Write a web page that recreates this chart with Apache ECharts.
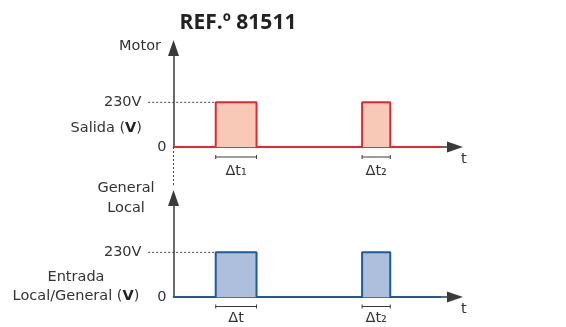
<!DOCTYPE html>
<html><head><meta charset="utf-8">
<script src="https://cdn.jsdelivr.net/npm/echarts@6/dist/echarts.min.js"></script>
<style>html,body{margin:0;padding:0;background:#fff}#c{width:566px;height:327px}</style>
</head><body><div id="c"></div>
<script>
// ---- data ----
const motorTimes = [0, 15, 15, 29.5, 29.5, 67, 67, 77, 77, 95];
const motorVolts = [0, 0, 230, 230, 0, 0, 230, 230, 0, 0];
const inputTimes = [0, 15, 15, 29.5, 29.5, 67, 67, 77, 77, 95];
const inputVolts = [0, 0, 230, 230, 0, 0, 230, 230, 0, 0];
const levelTicks = [0, 230];
const levelLabels = ['0', '230V'];
const motorIntStart = [15, 67];
const motorIntEnd = [29.5, 77];
const motorIntLabels = ['Δt₁', 'Δt₂'];
const inputIntStart = [15, 67];
const inputIntEnd = [29.5, 77];
const inputIntLabels = ['Δt', 'Δt₂'];
const timeMax = 100;
const voltMax = 510;

const FONT = '"DejaVu Sans", "Open Sans", sans-serif';
const TXT = '#333333';
const AX = '#3a3a3a';
const FS = 14.5;

function pairs(xs, ys) { return xs.map((x, i) => [x, ys[i]]); }

function bracketSeries(starts, ends, labels, idx, gap, textGap) {
  return {
    type: 'custom', xAxisIndex: idx, yAxisIndex: idx, silent: true, z: 5,
    data: starts.map((s, i) => [s, ends[i]]),
    renderItem: function (params, api) {
      const a = api.coord([api.value(0), 0]);
      const b = api.coord([api.value(1), 0]);
      const y = a[1] + gap;
      const st = { stroke: AX, lineWidth: 1 };
      return { type: 'group', children: [
        { type: 'line', shape: { x1: a[0], y1: y, x2: b[0], y2: y }, style: st },
        { type: 'line', shape: { x1: a[0], y1: y - 2, x2: a[0], y2: y + 2 }, style: st },
        { type: 'line', shape: { x1: b[0], y1: y - 2, x2: b[0], y2: y + 2 }, style: st },
        { type: 'text', style: { text: labels[params.dataIndex], x: (a[0] + b[0]) / 2, y: y + textGap,
          align: 'center', verticalAlign: 'middle', fontSize: FS, fontFamily: FONT, fill: TXT } }
      ]};
    }
  };
}

// dotted guide segments [x0, y0, x1, y1] in data units
function guideSeries(idx, segs) {
  return {
    type: 'custom', xAxisIndex: idx, yAxisIndex: idx, silent: true, z: 1,
    data: segs,
    renderItem: function (params, api) {
      const p0 = api.coord([api.value(0), api.value(1)]);
      const p1 = api.coord([api.value(2), api.value(3)]);
      return { type: 'line', shape: { x1: p0[0], y1: p0[1], x2: p1[0], y2: p1[1] },
        style: { stroke: '#444', lineWidth: 1, lineDash: [2, 2] } };
    }
  };
}

function yAxisDef(idx) {
  return {
    gridIndex: idx, type: 'value', min: 0, max: voltMax,
    axisLine: { show: true, symbol: ['none', 'triangle'], symbolSize: [11, 16],
      lineStyle: { color: AX, width: 1.5 } },
    axisTick: { show: false }, splitLine: { show: false },
    axisLabel: {
      customValues: levelTicks, margin: 7, fontSize: FS, fontFamily: FONT, color: TXT,
      formatter: function (v) {
        const i = levelTicks.indexOf(v);
        return v === 0 ? '{n|' + levelLabels[i] + '}' : '{f|' + levelLabels[i] + '}';
      },
      rich: { n: { fontSize: FS, fontFamily: FONT, color: TXT },
              f: { fontSize: FS, fontFamily: FONT, color: TXT, padding: [0, 25, 0, 0] } }
    }
  };
}
function xAxisDef(idx) {
  return {
    gridIndex: idx, type: 'value', min: 0, max: timeMax,
    axisLine: { show: true, symbol: ['none', 'triangle'], symbolSize: [11, 16],
      lineStyle: { color: AX, width: 1.5 } },
    axisTick: { show: false }, splitLine: { show: false }, axisLabel: { show: false },
    name: 't', nameLocation: 'end', nameGap: 6,
    nameTextStyle: { fontSize: FS, fontFamily: FONT, color: TXT, align: 'left', verticalAlign: 'top', padding: [5, 0, 0, 0] }
  };
}

const lblStyle = { fontSize: FS, fontWeight: 'normal', fontFamily: FONT, color: TXT,
  rich: { v: { fontSize: FS, fontWeight: 'bold', fontFamily: FONT, color: '#222' },
          t: { fontSize: FS, fontFamily: FONT, color: TXT } } };

const option = {
  animation: false,
  title: [
    { text: 'REF.º 81511', left: 238, top: 23, textAlign: 'center', textVerticalAlign: 'middle', padding: 0,
      textStyle: { fontSize: 21, fontWeight: 'bold', fontFamily: '"Open Sans", sans-serif', color: '#222' } },
    { text: 'Motor', left: 161, top: 46, textAlign: 'right', textVerticalAlign: 'middle', padding: 0,
      textStyle: lblStyle },
    { text: '{t|Salida (}{v|V}{t|)}', left: 142, top: 128, textAlign: 'right', textVerticalAlign: 'middle', padding: 0,
      textStyle: lblStyle },
    { text: 'General\nLocal', left: 126, top: 198, textAlign: 'center', textVerticalAlign: 'middle', padding: 0,
      textStyle: Object.assign({}, lblStyle, { lineHeight: 20 }) },
    { text: '{t|Entrada}\n{t|Local/General (}{v|V}{t|)}', left: 76, top: 287, textAlign: 'center', textVerticalAlign: 'middle', padding: 0,
      textStyle: Object.assign({}, lblStyle, { lineHeight: 19,
        rich: { v: { fontSize: FS, fontWeight: 'bold', fontFamily: FONT, color: '#222', lineHeight: 19 },
                t: { fontSize: FS, fontFamily: FONT, color: TXT, lineHeight: 19 } } }) }
  ],
  grid: [
    { left: 173.5, right: 111, top: 48, height: 99 },
    { left: 173.5, right: 111, top: 198, height: 99 }
  ],
  xAxis: [xAxisDef(0), xAxisDef(1)],
  yAxis: [yAxisDef(0), yAxisDef(1)],
  series: [
    {
      type: 'line', xAxisIndex: 0, yAxisIndex: 0, data: pairs(motorTimes, motorVolts),
      showSymbol: false, z: 3,
      lineStyle: { color: '#e4282d', width: 2 },
      areaStyle: { color: '#f8c9b7', opacity: 1 }
    },
    {
      type: 'line', xAxisIndex: 1, yAxisIndex: 1, data: pairs(inputTimes, inputVolts),
      showSymbol: false, z: 3,
      lineStyle: { color: '#1e5b9a', width: 2 },
      areaStyle: { color: '#aebfde', opacity: 1 }
    },
    guideSeries(0, [[-9, levelTicks[1], motorTimes[2], levelTicks[1]], [0, levelTicks[0], 0, -206]]),
    guideSeries(1, [[-9, levelTicks[1], inputTimes[2], levelTicks[1]]]),
    bracketSeries(motorIntStart, motorIntEnd, motorIntLabels, 0, 10, 14),
    bracketSeries(inputIntStart, inputIntEnd, inputIntLabels, 1, 9.5, 12)
  ]
};
const chart = echarts.init(document.getElementById('c'), null, { renderer: 'canvas' });
chart.setOption(option);
</script>
</body></html>
